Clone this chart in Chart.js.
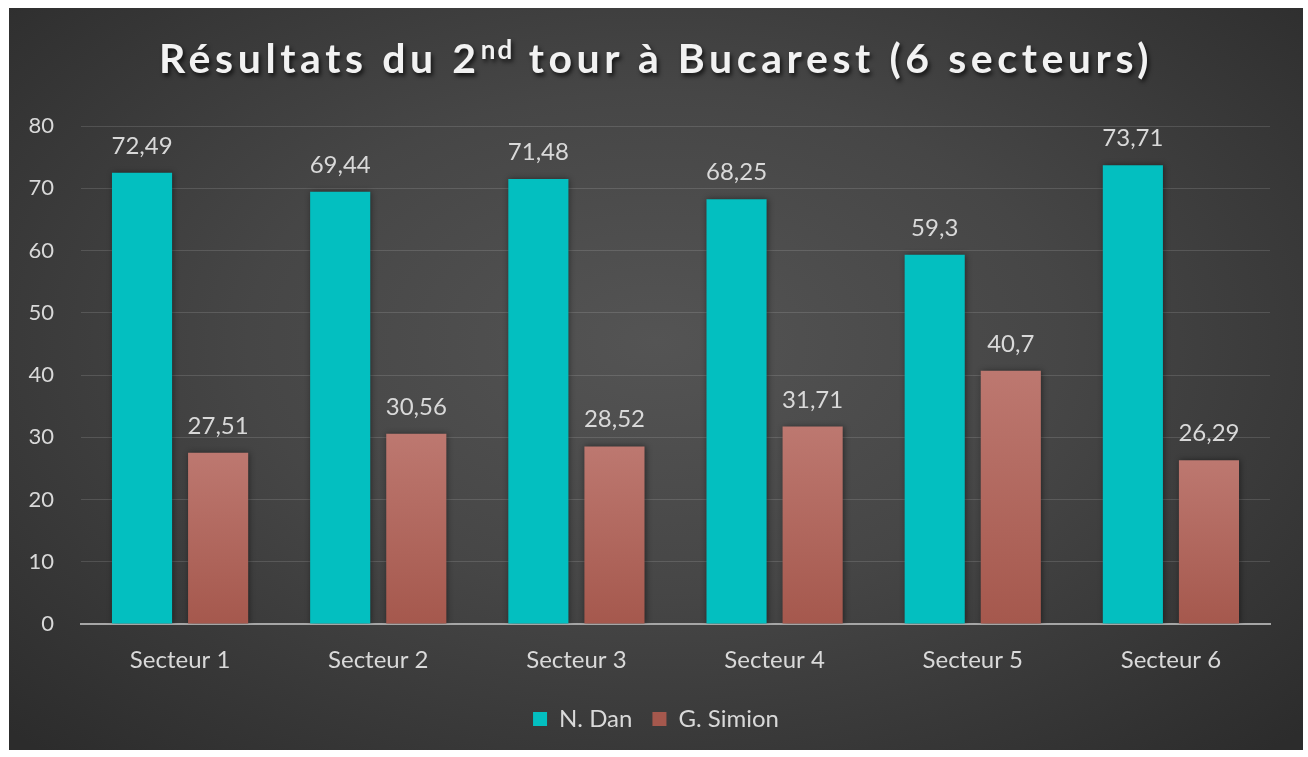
<!DOCTYPE html>
<html>
<head>
<meta charset="utf-8">
<script src="https://cdn.jsdelivr.net/npm/chart.js@4"></script>
<style>
  html, body { margin: 0; padding: 0; background: #fff; }
  #frame {
    position: absolute; left: 9px; top: 8px; width: 1294px; height: 742px;
    background: radial-gradient(ellipse 70% 75% at 50% 45%, #545454 0%, #464646 45%, #2c2c2c 100%);
    overflow: hidden;
  }
  #title {
    position: absolute; left: 0; right: 0; top: 25px; text-align: center;
    font-family: Lato, "Open Sans", sans-serif; font-weight: 700; font-size: 41px;
    letter-spacing: 4.6px; color: #f2f2f2;
    text-shadow: 2px 3px 4px rgba(0,0,0,0.7);
  }
  #title sup { font-size: 26px; vertical-align: 0; position: relative; top: -14px; letter-spacing: 2px; }
  canvas { position: absolute; left: 0; top: 0; }
</style>
</head>
<body>
<div id="frame">
  <canvas id="c" width="1294" height="742"></canvas>
  <div id="title">Résultats du 2<sup>nd</sup> tour à Bucarest (6 secteurs)</div>
</div>
<script>
// values
const sectors = ['Secteur 1', 'Secteur 2', 'Secteur 3', 'Secteur 4', 'Secteur 5', 'Secteur 6'];
const danValues = [72.49, 69.44, 71.48, 68.25, 59.3, 73.71];
const simionValues = [27.51, 30.56, 28.52, 31.71, 40.7, 26.29];
const seriesNames = ['N. Dan', 'G. Simion'];
const yTicks = [0, 10, 20, 30, 40, 50, 60, 70, 80];

const FONT = 'Lato, "Open Sans", sans-serif';
const TEXT = '#d9d9d9';
const TEAL = '#03bfc0';
const SALMON = '#b0655b';

// comma decimals, as in the French original
const frNum = v => String(v).replace('.', ',');

// salmon bars: lighter at the top of each bar, darker at the base
function salmonFill(ctx) {
  const chart = ctx.chart;
  const y = chart.scales.y;
  if (!y || ctx.dataIndex == null) return SALMON;
  const top = y.getPixelForValue(ctx.raw);
  const bottom = y.getPixelForValue(0);
  if (!isFinite(top) || !isFinite(bottom) || top === bottom) return SALMON;
  const g = chart.ctx.createLinearGradient(0, top, 0, bottom);
  g.addColorStop(0, '#bd7870');
  g.addColorStop(1, '#a5584d');
  return g;
}

// soft shadow round the bars
const barShadow = {
  id: 'barShadow',
  beforeDatasetDraw(chart) {
    const c = chart.ctx;
    c.save();
    c.shadowColor = 'rgba(0,0,0,0.45)';
    c.shadowBlur = 6;
    c.shadowOffsetX = 1;
    c.shadowOffsetY = 0;
  },
  afterDatasetDraw(chart) { chart.ctx.restore(); },
};

// centre the legend on the whole frame, not on the padded box
const legendCentre = {
  id: 'legendCentre',
  afterLayout(chart) {
    if (!chart.legend) return;
    chart.legend.left = 0;
    chart.legend.right = chart.width;
  },
};

// value labels above each bar
const valueLabels = {
  id: 'valueLabels',
  afterDatasetsDraw(chart) {
    const c = chart.ctx;
    c.save();
    c.font = '24px ' + FONT;
    c.fillStyle = TEXT;
    c.textAlign = 'center';
    c.textBaseline = 'alphabetic';
    chart.data.datasets.forEach((ds, i) => {
      chart.getDatasetMeta(i).data.forEach((bar, j) => {
        c.fillText(frNum(ds.data[j]), bar.x, bar.y - 19);
      });
    });
    c.restore();
  },
};

new Chart(document.getElementById('c'), {
  type: 'bar',
  data: {
    labels: sectors,
    datasets: [
      { label: seriesNames[0], data: danValues, backgroundColor: TEAL },
      { label: seriesNames[1], data: simionValues, backgroundColor: salmonFill },
    ],
  },
  options: {
    responsive: false,
    animation: false,
    devicePixelRatio: 1,
    datasets: { bar: { categoryPercentage: 0.768, barPercentage: 0.79 } },
    layout: { padding: { top: 118, right: 33, left: 0, bottom: 9 } },
    scales: {
      x: {
        afterFit: s => { s.height = 63; },
        grid: { display: false, drawTicks: false },
        border: { color: '#a6a6a6', width: 2 },
        ticks: { color: TEXT, font: { family: FONT, size: 24 }, padding: 22 },
      },
      y: {
        min: 0, max: 80,
        afterBuildTicks: s => { s.ticks = yTicks.map(v => ({ value: v })); },
        afterFit: s => { s.width = 72; },
        grid: { color: 'rgba(255,255,255,0.13)', lineWidth: 1, drawTicks: false },
        border: { display: false },
        ticks: { color: TEXT, font: { family: FONT, size: 22 }, padding: 27 },
      },
    },
    plugins: {
      title: { display: false },
      tooltip: { enabled: false },
      legend: {
        position: 'bottom',
        labels: {
          color: TEXT,
          font: { family: FONT, size: 24 },
          boxWidth: 14, boxHeight: 14,
          padding: 20,
        },
      },
    },
  },
  plugins: [barShadow, legendCentre, valueLabels],
});
</script>
</body>
</html>
